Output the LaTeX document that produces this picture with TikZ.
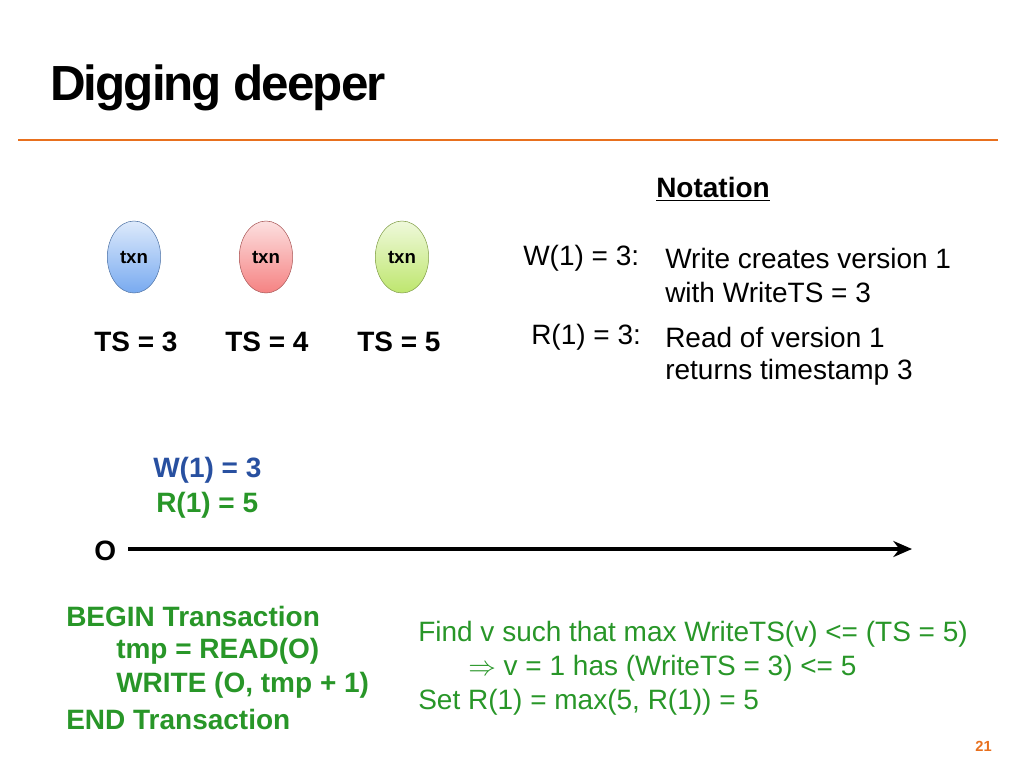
\documentclass[tikz,border=0pt]{standalone}
\usepackage{fontspec}
\setmainfont{Liberation Sans}
\usetikzlibrary{shapes.geometric,arrows.meta}
\definecolor{orng}{RGB}{232,112,30}
\definecolor{grn}{RGB}{40,150,40}
\definecolor{blu}{RGB}{40,80,160}
\definecolor{lb}{RGB}{120,170,240}
\definecolor{lr}{RGB}{245,130,130}
\definecolor{lg}{RGB}{190,230,110}
\begin{document}
\begin{tikzpicture}[x=0.75pt,y=-0.75pt,
 txt/.style={anchor=west,inner sep=0pt,font=\fontsize{21}{24}\selectfont},
 btxt/.style={txt,font=\fontsize{21}{24}\selectfont\bfseries},
 ell/.style={ellipse,draw,minimum width=40pt,minimum height=54pt,inner sep=0pt,font=\fontsize{14}{16}\selectfont\bfseries}]
\useasboundingbox (0,0) rectangle (1024,768);
\node[anchor=west,inner sep=0pt,font=\fontsize{37}{42}\selectfont\bfseries] (title) at (50,88) {\addfontfeature{LetterSpace=-4}Digging deeper};
\coordinate (l1) at (18,140); \coordinate (l2) at (998,140);
\draw[orng,line width=2pt] (l1) -- (l2);
\node[ell,draw=lb!70!black,top color=lb!25,bottom color=lb] (t1) at (134,257) {txn};
\node[ell,draw=lr!70!black,top color=lr!25,bottom color=lr] (t2) at (266,257) {txn};
\node[ell,draw=lg!70!black,top color=lg!25,bottom color=lg] (t3) at (402,257) {txn};
\node[btxt] (ts3) at (94,342) {TS = 3};
\node[btxt] (ts4) at (225,342) {TS = 4};
\node[btxt] (ts5) at (357,342) {TS = 5};
\node[btxt] (nt) at (656,189) {\underline{Notation}};
\node[txt] (w1) at (523,258) {W(1) = 3:};
\node[txt] (w1d) at (665,258) {Write creates version 1};
\node[txt] (w1e) at (665,292) {with WriteTS = 3};
\node[txt] (r1) at (531,337) {R(1) = 3:};
\node[txt] (r1d) at (665,337) {Read of version 1};
\node[txt] (r1e) at (665,372) {returns timestamp 3};
\node[btxt,text=blu] (wv) at (153,470) {W(1) = 3};
\node[btxt,text=grn] (rv) at (156,505) {R(1) = 5};
\node[btxt] (o) at (94,551) {O};
\coordinate (a1) at (128,549); \coordinate (a2) at (912,549);
\draw[line width=2.5pt,-{Stealth[length=14pt,width=12pt]}] (a1) -- (a2);
\node[btxt,text=grn] (b1) at (66,616) {BEGIN Transaction};
\node[btxt,text=grn] (b2) at (116,651) {tmp = READ(O)};
\node[btxt,text=grn] (b3) at (116,685) {WRITE (O, tmp + 1)};
\node[btxt,text=grn] (b4) at (66,719) {END Transaction};
\node[txt,text=grn] (f1) at (418,634) {Find v such that max WriteTS(v) <= (TS = 5)};
\node[txt,text=grn] (f2) at (468,668) {$\Rightarrow$ v = 1 has (WriteTS = 3) <= 5};
\node[txt,text=grn] (f3) at (418,702) {Set R(1) = max(5, R(1)) = 5};
\node[anchor=east,inner sep=0pt,text=orng,font=\fontsize{11}{13}\selectfont\bfseries] (pg) at (992,746) {21};
\end{tikzpicture}
\end{document}
